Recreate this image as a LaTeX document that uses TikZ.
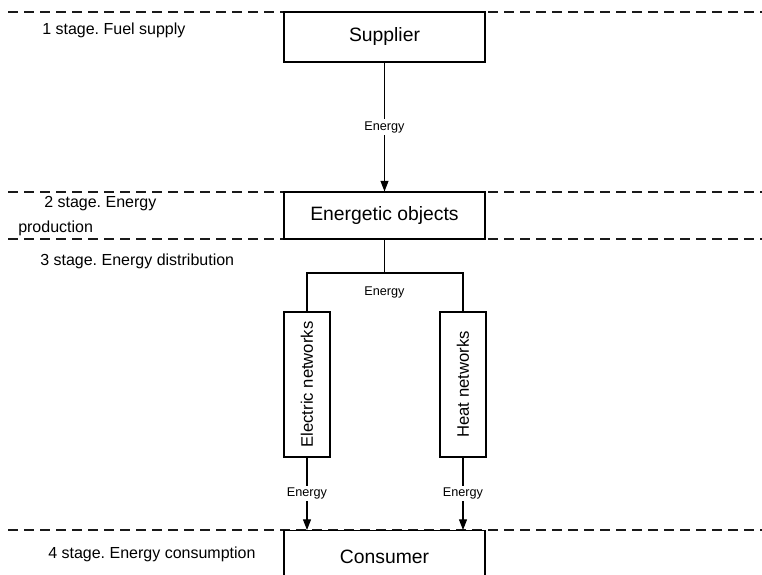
\documentclass[tikz,border=0pt]{standalone}
\usepackage{fontspec}
\setmainfont{Liberation Sans}
\frenchspacing
\usepackage{xcolor}
\usepackage{tikz}
\usetikzlibrary{calc,arrows.meta}
\definecolor{bg}{HTML}{FFFFFF}
\definecolor{ink}{HTML}{000000}
\definecolor{rule}{HTML}{1A1A1A}
\tikzset{
  box/.style={draw=ink, fill=bg, line width=0.8pt, minimum width=150.75pt, inner sep=0pt, font=\fontsize{14.5}{17}\selectfont},
  netbox/.style={draw=ink, fill=bg, line width=0.8pt, minimum width=34.5pt, minimum height=108.75pt, inner sep=0pt, font=\fontsize{12.5}{15}\selectfont},
  flow/.style={draw=ink, line width=0.8pt},
  tip/.style={flow, -{Triangle[length=8pt, width=6pt]}},
  stage/.style={draw=rule, dash pattern=on 7.5pt off 4.5pt, line width=0.8pt},
  lab/.style={text=ink, font=\fontsize{9.5}{11}\selectfont, fill=bg, inner sep=1.5pt},
  stg/.style={text=ink, font=\fontsize{12}{14}\selectfont, anchor=base west, inner sep=0pt},
}

\begin{document}
\begin{tikzpicture}[x=0.75pt, y=-0.75pt]
  \useasboundingbox (0,0) rectangle (762,574);
  \clip (0,0) rectangle (762,574);
  % stage borders
  \foreach \y in {12,192,239,530}{
    \draw[stage] (8,\y) -- (762,\y);
  }
  \node[stg] (s1) at (42,35) {1 stage. Fuel supply};
  \node[stg] (s2) at (44,207) {2 stage. Energy};
  \node[stg] (s2b) at (18,232) {production};
  \node[stg] (s3) at (40,265) {3 stage. Energy distribution};
  \node[stg] (s4) at (48,558) {4 stage. Energy consumption};
  % boxes
  \node[box, minimum height=37.5pt] (sup) at (384.5,37) {Supplier};
  \node[box, minimum height=35.25pt] (eo) at (384.5,215.5) {Energetic objects};
  \node[netbox] (elec) at (307,384.5) {\rotatebox{90}{Electric networks}};
  \node[netbox] (heat) at (463,384.5) {\rotatebox{90}{Heat networks}};
  \node[box, minimum height=45pt, anchor=north] (cons) at (384.5,530) {\raisebox{6pt}{Consumer}};
  \coordinate (split) at (384.5,273);
  % connectors
  \draw[tip] (sup) -- node[lab] {Energy} (eo);
  \draw[flow] (eo) -- (split);
  \draw[flow] (elec.north) |- (split) -| (heat.north);
  \node[lab] (e2) at (384.5,292) {Energy};
  \draw[tip] (elec) -- node[lab] {Energy} (elec |- cons.north);
  \draw[tip] (heat) -- node[lab] {Energy} (heat |- cons.north);
\end{tikzpicture}
\end{document}
